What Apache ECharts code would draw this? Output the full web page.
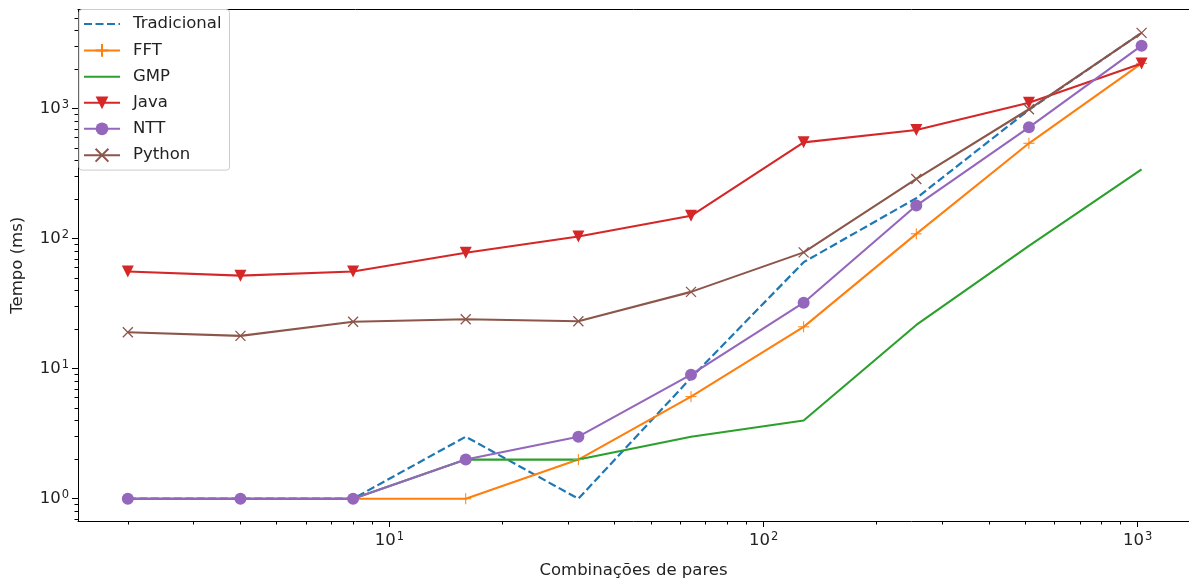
<!DOCTYPE html>
<html>
<head>
<meta charset="utf-8">
<script src="https://cdn.jsdelivr.net/npm/echarts@6/dist/echarts.min.js"></script>
<style>html,body{margin:0;padding:0;background:#fff}#c{width:1189px;height:586px}</style>
</head>
<body>
<div id="c"></div>
<script>
const pares = [2, 4, 8, 16, 32, 64, 128, 256, 512, 1024];
const tradicional = [1, 1, 1, 3, 1, 8.5, 66, 205, 980, 3830];
const fft = [1, 1, 1, 1, 2, 6.1, 21, 109, 542, 2230];
const gmp = [1, 1, 1, 2, 2, 3, 4, 21.7, 88, 342];
const java = [56, 52, 56, 78, 104, 150, 551, 685, 1110, 2230];
const ntt = [1, 1, 1, 2, 3, 9, 32.2, 180, 719, 3055];
const python = [19.1, 17.9, 23, 24, 23.2, 39, 78.5, 288, 990, 3830];

const xMajor = [10, 100, 1000];
const xMinor = [2, 3, 4, 5, 6, 7, 8, 9, 20, 30, 40, 50, 60, 70, 80, 90, 200, 300, 400, 500, 600, 700, 800, 900];
const yMajor = [1, 10, 100, 1000];
const yMinor = [0.7, 0.8, 0.9, 2, 3, 4, 5, 6, 7, 8, 9, 20, 30, 40, 50, 60, 70, 80, 90, 200, 300, 400, 500, 600, 700, 800, 900, 2000, 3000, 4000, 5000];

const FONT = 'DejaVu Sans';
const TXT = '#222';
const X_MIN = 1.472, X_MAX = 1371;
const Y_MIN = 0.674, Y_MAX = 5794;

const pair = arr => pares.map((x, i) => [x, arr[i]]);
const powLabel = v => '10{sup|' + Math.round(Math.log10(v)) + '}';
const richSup = {
  sup: { fontSize: 11.5, fontFamily: FONT, color: TXT, verticalAlign: 'top', padding: [0, 0, 7, 1] }
};

const PLUS = 'path://M5,0 L5,10 M0,5 L10,5';
const CROSS = 'path://M0,0 L10,10 M0,10 L10,0';

function line(name, data, color, extra) {
  return Object.assign({
    name, type: 'line', data: pair(data), xAxisIndex: 0, yAxisIndex: 0,
    lineStyle: { color, width: 2.1 }, itemStyle: { color },
    symbol: 'none', animation: false, z: 3
  }, extra || {});
}

const option = {
  animation: false,
  backgroundColor: '#fff',
  grid: { left: 78, right: 0, top: 9.5, bottom: 65, containLabel: false },
  legend: {
    orient: 'vertical', left: 79, top: 9.5,
    padding: [6, 8, 6, 4],
    itemWidth: 36, itemHeight: 16, itemGap: 9,
    backgroundColor: 'rgba(255,255,255,0.8)',
    borderColor: '#ccc', borderWidth: 1, borderRadius: 3,
    textStyle: { fontFamily: FONT, fontSize: 16.5, color: TXT, lineHeight: 16, padding: [0, 0, 0, 8] },
    data: [
      { name: 'Tradicional', itemStyle: { opacity: 0 } },
      'FFT',
      { name: 'GMP', itemStyle: { opacity: 0 } },
      'Java', 'NTT', 'Python'
    ]
  },
  xAxis: [
    {
      type: 'log', logBase: 10, min: X_MIN, max: X_MAX, position: 'bottom',
      name: 'Combinações de pares', nameLocation: 'middle', nameGap: 41,
      nameTextStyle: { fontFamily: FONT, fontSize: 16.5, color: TXT },
      axisLine: { show: true, lineStyle: { color: '#000', width: 1 } },
      axisTick: { show: true, length: 6, lineStyle: { color: '#000' }, customValues: xMajor },
      axisLabel: { show: true, margin: 10, customValues: xMajor, formatter: powLabel,
        fontFamily: FONT, fontSize: 16.5, color: TXT, rich: richSup },
      splitLine: { show: false }, minorTick: { show: false }
    },
    {
      type: 'log', logBase: 10, min: X_MIN, max: X_MAX, position: 'bottom',
      axisLine: { show: false },
      axisTick: { show: true, length: 3.5, lineStyle: { color: '#000' }, customValues: xMinor },
      axisLabel: { show: false }, splitLine: { show: false }
    },
    {
      type: 'log', logBase: 10, min: X_MIN, max: X_MAX, position: 'top',
      axisLine: { show: true, lineStyle: { color: '#000', width: 1 } },
      axisTick: { show: false }, axisLabel: { show: false }, splitLine: { show: false }
    }
  ],
  yAxis: [
    {
      type: 'log', logBase: 10, min: Y_MIN, max: Y_MAX, position: 'left',
      name: 'Tempo (ms)', nameLocation: 'middle', nameGap: 52, nameRotate: 90,
      nameTextStyle: { fontFamily: FONT, fontSize: 16.5, color: TXT },
      axisLine: { show: true, lineStyle: { color: '#000', width: 1 } },
      axisTick: { show: true, length: 6, lineStyle: { color: '#000' }, customValues: yMajor },
      axisLabel: { show: true, margin: 9, customValues: yMajor, formatter: powLabel,
        fontFamily: FONT, fontSize: 16.5, color: TXT, rich: richSup },
      splitLine: { show: false }, minorTick: { show: false }
    },
    {
      type: 'log', logBase: 10, min: Y_MIN, max: Y_MAX, position: 'left',
      axisLine: { show: false },
      axisTick: { show: true, length: 3.5, lineStyle: { color: '#000' }, customValues: yMinor },
      axisLabel: { show: false }, splitLine: { show: false }
    }
  ],
  series: [
    line('Tradicional', tradicional, '#1f77b4', { lineStyle: { color: '#1f77b4', width: 2.2, type: [8, 3.5] } }),
    line('FFT', fft, '#ff7f0e', { symbol: PLUS, symbolSize: 11,
      itemStyle: { color: 'none', borderColor: '#ff7f0e', borderWidth: 1 } }),
    line('GMP', gmp, '#2ca02c'),
    line('Java', java, '#d62728', { symbol: 'triangle', symbolRotate: 180, symbolSize: 12 }),
    line('NTT', ntt, '#9467bd', { symbol: 'circle', symbolSize: 12 }),
    line('Python', python, '#8c564b', { symbol: CROSS, symbolSize: 10,
      itemStyle: { color: 'none', borderColor: '#8c564b', borderWidth: 1.3 } })
  ]
};

const chart = echarts.init(document.getElementById('c'), null, { renderer: 'canvas' });
chart.setOption(option);
</script>
</body>
</html>
